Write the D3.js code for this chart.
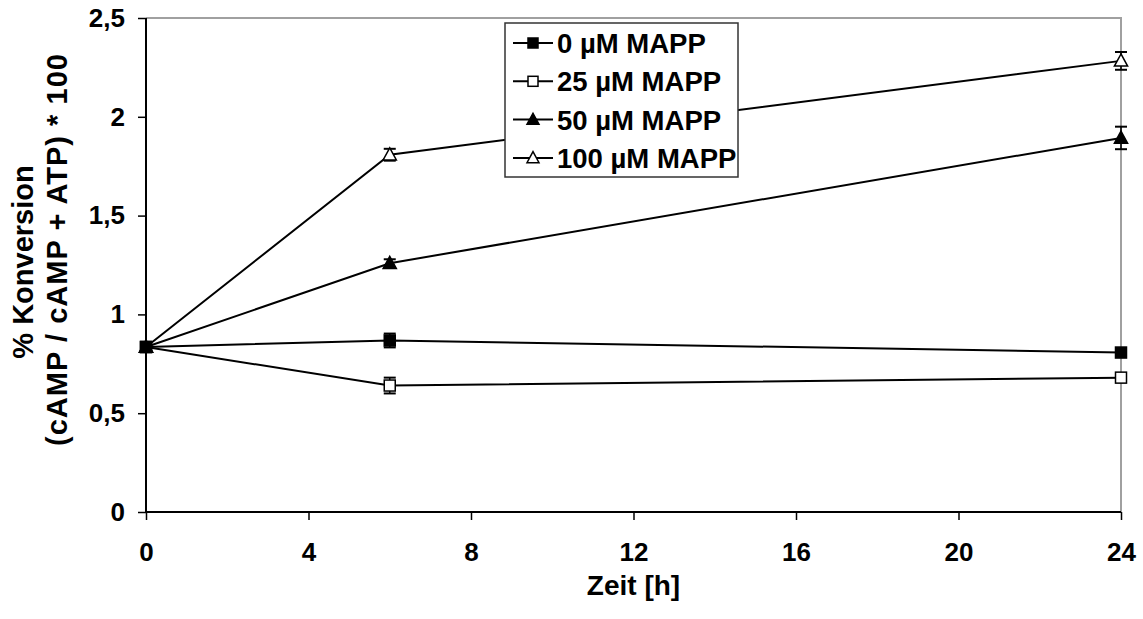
<!DOCTYPE html>
<html>
<head>
<meta charset="utf-8">
<script src="https://cdnjs.cloudflare.com/ajax/libs/d3/7.8.5/d3.min.js"></script>
<style>
  html, body { margin: 0; padding: 0; background: #fff; }
  svg { display: block; }
  text { font-family: "Liberation Sans", Arial, sans-serif; font-weight: bold; fill: #000; }
</style>
</head>
<body>
<svg id="chart" width="1143" height="619"></svg>
<script>
// Time points (h)
const times = [0, 6, 24];

// Series: mean conversion and error (SD) per time point
const seriesNames = ["0 µM MAPP", "25 µM MAPP", "50 µM MAPP", "100 µM MAPP"];
const values0   = [0.835, 0.868, 0.807];
const values25  = [0.835, 0.640, 0.680];
const values50  = [0.835, 1.259, 1.893];
const values100 = [0.835, 1.808, 2.283];
const err0   = [0.01, 0.035, 0.01];
const err25  = [0.01, 0.040, 0.01];
const err50  = [0.01, 0.020, 0.057];
const err100 = [0.01, 0.030, 0.045];
const markerTypes = ["squareFilled", "squareOpen", "triangleFilled", "triangleOpen"];

const xTicks = [0, 4, 8, 12, 16, 20, 24];
const yTicks = [0, 0.5, 1, 1.5, 2, 2.5];
const yTickLabels = ["0", "0,5", "1", "1,5", "2", "2,5"];

const series = seriesNames.map((name, i) => ({
  name,
  marker: markerTypes[i],
  points: times.map((t, j) => ({
    t,
    v: [values0, values25, values50, values100][i][j],
    e: [err0, err25, err50, err100][i][j]
  }))
}));

const svg = d3.select("#chart");
const plot = { left: 146, right: 1121, top: 18, bottom: 512 };

const x = d3.scaleLinear().domain([0, 24]).range([plot.left, plot.right]);
const y = d3.scaleLinear().domain([0, 2.5]).range([plot.bottom, plot.top]);

// Grey frame on top and right side of the plot area
svg.append("path")
  .attr("d", `M${plot.left},${plot.top}H${plot.right}V${plot.bottom}`)
  .attr("fill", "none").attr("stroke", "#a0a0a0").attr("stroke-width", 2);

// Axes
const xAxis = svg.append("g").attr("transform", `translate(0,${plot.bottom})`)
  .call(d3.axisBottom(x).tickValues(xTicks).tickSize(8).tickPadding(23).tickFormat(d3.format("d")));
const yAxis = svg.append("g").attr("transform", `translate(${plot.left},0)`)
  .call(d3.axisLeft(y).tickValues(yTicks).tickSize(8).tickPadding(13)
    .tickFormat((d, i) => yTickLabels[i]));
[xAxis, yAxis].forEach(g => {
  g.select(".domain").attr("stroke", "#000").attr("stroke-width", 2);
  g.selectAll(".tick line").attr("stroke", "#000").attr("stroke-width", 1.5);
  g.selectAll(".tick text").style("font-size", "26px").style("font-weight", "bold")
    .style("font-family", "'Liberation Sans', Arial, sans-serif").attr("fill", "#000");
});
xAxis.select(".domain").attr("d", `M${plot.left},0H${plot.right}`);
yAxis.select(".domain").attr("d", `M0,${plot.bottom}V${plot.top}`);

// Axis titles
svg.append("text").attr("x", (plot.left + plot.right) / 2).attr("y", 595)
  .attr("text-anchor", "middle").style("font-size", "28px").text("Zeit [h]");
const yTitle1 = svg.append("text")
  .attr("transform", `translate(0,262) rotate(-90)`)
  .attr("text-anchor", "middle").style("font-size", "29px");
yTitle1.append("tspan").attr("x", 0).attr("y", 33).text("% Konversion");
const yTitle2 = svg.append("text")
  .attr("transform", `translate(0,250) rotate(-90)`)
  .attr("text-anchor", "middle").style("font-size", "29px");
yTitle2.append("tspan").attr("x", 0).attr("y", 67)
  .attr("textLength", 392).attr("lengthAdjust", "spacing")
  .text("(cAMP / cAMP + ATP) * 100");

// Marker drawing
function drawMarker(g, type, cx, cy, s) {
  const filled = type.endsWith("Filled");
  if (type.startsWith("square")) {
    g.append("rect").attr("x", cx - s / 2).attr("y", cy - s / 2).attr("width", s).attr("height", s)
      .attr("fill", filled ? "#000" : "#fff").attr("stroke", "#000").attr("stroke-width", 1.5);
  } else {
    const h = s * 1.05;
    g.append("path")
      .attr("d", `M${cx},${cy - h * 0.6}L${cx + s * 0.6},${cy + h * 0.45}L${cx - s * 0.6},${cy + h * 0.45}Z`)
      .attr("fill", filled ? "#000" : "#fff").attr("stroke", "#000").attr("stroke-width", 1.5);
  }
}

const line = d3.line().x(d => x(d.t)).y(d => y(d.v));

// Draw the later series first so the first series sits on top at the shared start point
series.slice().reverse().forEach(s => {
  const g = svg.append("g");
  g.append("path").attr("d", line(s.points)).attr("fill", "none")
    .attr("stroke", "#000").attr("stroke-width", 2);
  // error bars
  s.points.forEach(p => {
    const cx = x(p.t), y1 = y(p.v + p.e), y2 = y(p.v - p.e);
    g.append("line").attr("x1", cx).attr("x2", cx).attr("y1", y1).attr("y2", y2)
      .attr("stroke", "#000").attr("stroke-width", 1.5);
    [y1, y2].forEach(yy => g.append("line").attr("x1", cx - 6).attr("x2", cx + 6)
      .attr("y1", yy).attr("y2", yy).attr("stroke", "#000").attr("stroke-width", 2));
  });
  s.points.forEach(p => drawMarker(g, s.marker, x(p.t), y(p.v), 11));
});

// Legend
const legend = svg.append("g");
legend.append("rect").attr("x", 505).attr("y", 23).attr("width", 233).attr("height", 154)
  .attr("fill", "#fff").attr("stroke", "#333").attr("stroke-width", 1.5);
series.forEach((s, i) => {
  const cy = 43 + i * 38.3;
  legend.append("line").attr("x1", 513).attr("x2", 553).attr("y1", cy).attr("y2", cy)
    .attr("stroke", "#000").attr("stroke-width", 2);
  drawMarker(legend, s.marker, 533, cy, 10);
  legend.append("text").attr("x", 557).attr("y", cy + 10).style("font-size", "27.5px").text(s.name);
});
</script>
</body>
</html>
